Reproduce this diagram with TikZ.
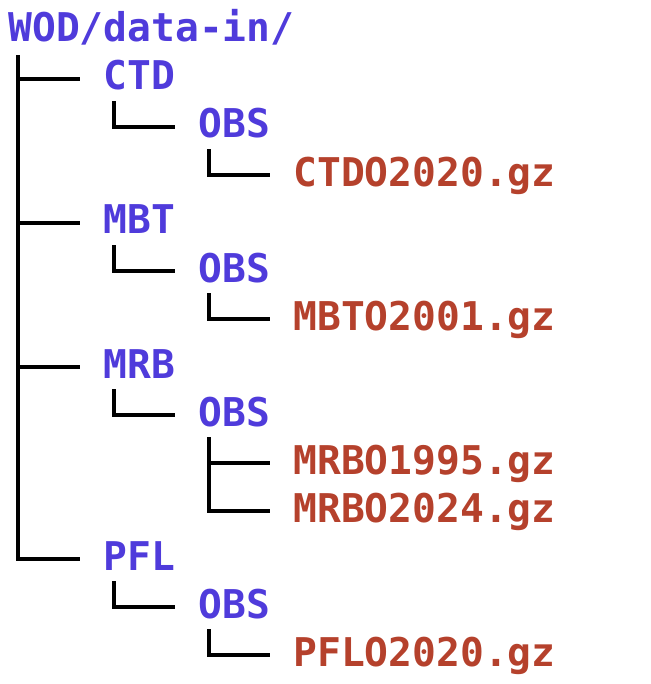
\documentclass[tikz,border=0pt]{standalone}
\usepackage{fontspec}
\setmonofont{DejaVu Sans Mono}
\usetikzlibrary{positioning}
\definecolor{dirblue}{HTML}{4F3BDB}
\definecolor{gzred}{HTML}{B5412C}

\begin{document}
\begin{tikzpicture}
			[entry/.style={inner sep=0pt, text height=13pt, text depth=2pt, font=\ttfamily\bfseries\fontsize{19.8pt}{24pt}\selectfont},
			folder/.style={entry, text=dirblue},
			gzfile/.style={entry, text=gzred},
			branch/.style={line width=1.6pt}]
			\useasboundingbox (0,0) rectangle (325pt,-342pt);
			\node[folder, anchor=base west] (root) at (4pt,-21pt) {WOD/data-in/};
			% CTD
			\node[folder] (ctd) [below right=24pt and 47.5pt of root.base west, anchor=base west] {CTD};
			\node[folder] (ctdobs) [below right=24pt and 47.5pt of ctd.base west, anchor=base west] {OBS};
			\node[gzfile] (ctdf) [below right=24pt and 47.5pt of ctdobs.base west, anchor=base west] {CTDO2020.gz};
			% MBT
			\node[folder] (mbt) [below=72pt of ctd.base west, anchor=base west] {MBT};
			\node[folder] (mbtobs) [below right=24pt and 47.5pt of mbt.base west, anchor=base west] {OBS};
			\node[gzfile] (mbtf) [below right=24pt and 47.5pt of mbtobs.base west, anchor=base west] {MBTO2001.gz};
			% MRB
			\node[folder] (mrb) [below=72pt of mbt.base west, anchor=base west] {MRB};
			\node[folder] (mrbobs) [below right=24pt and 47.5pt of mrb.base west, anchor=base west] {OBS};
			\node[gzfile] (mrbfa) [below right=24pt and 47.5pt of mrbobs.base west, anchor=base west] {MRBO1995.gz};
			\node[gzfile] (mrbfb) [below=24pt of mrbfa.base west, anchor=base west] {MRBO2024.gz};
			% PFL
			\node[folder] (pfl) [below=96pt of mrb.base west, anchor=base west] {PFL};
			\node[folder] (pflobs) [below right=24pt and 47.5pt of pfl.base west, anchor=base west] {OBS};
			\node[gzfile] (pflf) [below right=24pt and 47.5pt of pflobs.base west, anchor=base west] {PFLO2020.gz};
			% branches
			\foreach \c in {ctd,mbt,mrb,pfl}
				\draw[branch] ([xshift=5pt,yshift=-4.5pt]root.south west) |- ([xshift=-11.5pt]\c.west);
			\foreach \p/\c in {ctd/ctdobs,ctdobs/ctdf,mbt/mbtobs,mbtobs/mbtf,mrb/mrbobs,mrbobs/mrbfa,mrbobs/mrbfb,pfl/pflobs,pflobs/pflf}
				\draw[branch] ([xshift=5.5pt,yshift=-3.5pt]\p.south west) |- ([xshift=-11.5pt]\c.west);
		\end{tikzpicture}
\end{document}
